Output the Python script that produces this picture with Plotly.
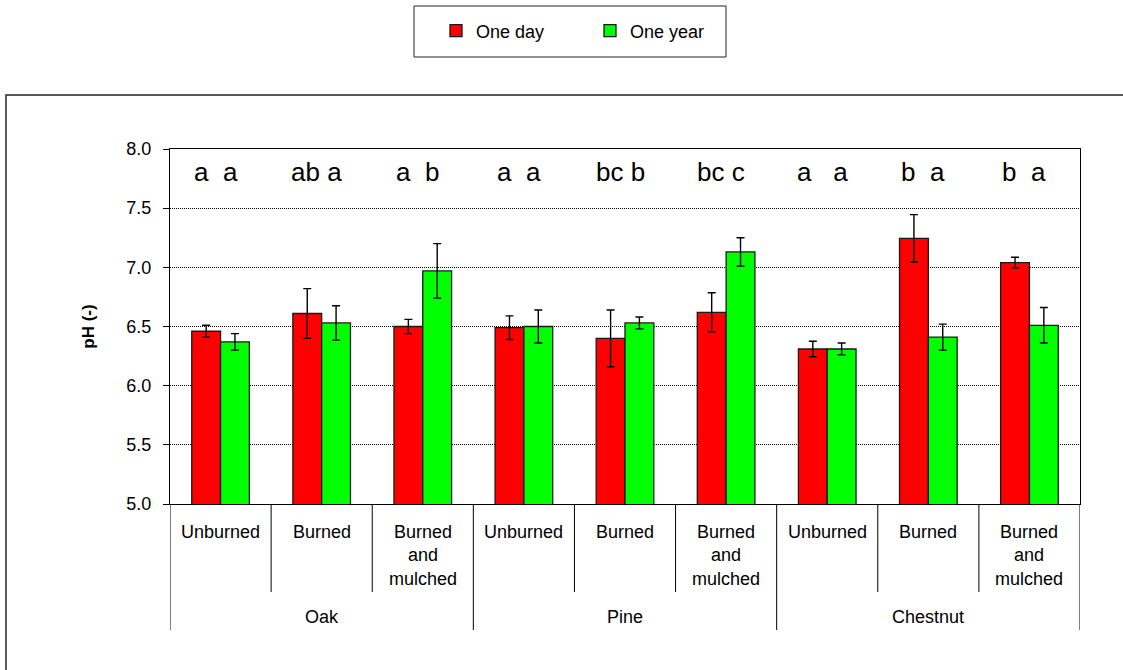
import plotly.graph_objects as go

# Treatments within each species, and the species groups
treatments = ["Unburned", "Burned", "Burned<br>and<br>mulched"]
species = ["Oak", "Pine", "Chestnut"]

# Mean pH and standard deviation per treatment (species-major order)
one_day = [6.46, 6.61, 6.50, 6.49, 6.40, 6.62, 6.31, 7.245, 7.04]
one_day_sd = [0.05, 0.21, 0.06, 0.10, 0.24, 0.165, 0.065, 0.20, 0.045]
one_year = [6.37, 6.53, 6.97, 6.50, 6.53, 7.13, 6.31, 6.41, 6.51]
one_year_sd = [0.07, 0.145, 0.23, 0.14, 0.05, 0.12, 0.05, 0.11, 0.15]

# Significance letters (one day / one year)
letters = ["a  a", "ab a", "a  b", "a  a", "bc b", "bc c", "a   a", "b  a", "b  a"]

y_ticks = [5.0, 5.5, 6.0, 6.5, 7.0, 7.5, 8.0]

FONT = "Liberation Sans, Arial, sans-serif"
n_cat = len(treatments) * len(species)
xpos = list(range(n_cat))

fig = go.Figure()
fig.add_trace(go.Bar(
    x=xpos, y=one_day, name="One day",
    marker=dict(color="#FF0000", line=dict(color="#1a1a1a", width=1.3)),
    error_y=dict(type="data", array=one_day_sd, color="black", thickness=1.4, width=4),
))
fig.add_trace(go.Bar(
    x=xpos, y=one_year, name="One year",
    marker=dict(color="#00FF00", line=dict(color="#1a1a1a", width=1.3)),
    error_y=dict(type="data", array=one_year_sd, color="black", thickness=1.4, width=4),
))

fig.update_layout(
    width=1123, height=670,
    margin=dict(l=170, r=43, t=149, b=166, autoexpand=False),
    paper_bgcolor="white", plot_bgcolor="white",
    font=dict(family=FONT, size=18, color="black"),
    barmode="group", bargap=0.43, bargroupgap=0,
    showlegend=True,
    legend=dict(
        orientation="h", x=0.2923, y=1.3324, xanchor="left", yanchor="middle",
        xref="paper", yref="paper",
        entrywidth=109, entrywidthmode="pixels",
        bgcolor="rgba(0,0,0,0)", borderwidth=0,
        font=dict(family=FONT, size=18),
    ),
)

fig.update_xaxes(
    range=[-0.5, n_cat - 0.5], showticklabels=False, ticks="",
    showline=True, linecolor="black", linewidth=1, mirror=True,
    showgrid=False, zeroline=False, fixedrange=True,
)
fig.update_yaxes(
    range=[5.0, 8.0], tickvals=y_ticks, ticktext=[f"{v:.1f}" for v in y_ticks],
    ticks="outside", ticklen=6, tickcolor="black", ticklabelstandoff=8,
    showline=True, linecolor="black", linewidth=1, mirror=True,
    showgrid=True, gridcolor="black", gridwidth=1, griddash="1px,1px",
    zeroline=False, automargin=False,
    tickfont=dict(family=FONT, size=18),
    title=dict(text="<b>pH (-)</b>", font=dict(family=FONT, size=17), standoff=27),
)

annotations = []
shapes = []

# Significance letters above each treatment
for i, txt in enumerate(letters):
    annotations.append(dict(
        x=i, y=7.8, xref="x", yref="y", text=txt.replace(" ", "\u00a0"),
        showarrow=False, xanchor="center", yanchor="middle", xshift=-5, yshift=1,
        font=dict(family=FONT, size=26),
    ))

# Treatment labels and short dividers
for g in range(len(species)):
    for t, name in enumerate(treatments):
        i = g * len(treatments) + t
        annotations.append(dict(
            x=i, y=0, xref="x", yref="paper", text=name, showarrow=False,
            xanchor="center", yanchor="top", yshift=-16, align="center",
            font=dict(family=FONT, size=18),
        ))
        if t > 0:
            shapes.append(dict(
                type="line", xref="x", yref="paper", x0=i - 0.5, x1=i - 0.5,
                y0=0, y1=-88 / 355, line=dict(color="black", width=1),
            ))

# Species labels and long dividers
for g, name in enumerate(species):
    centre = g * len(treatments) + (len(treatments) - 1) / 2
    annotations.append(dict(
        x=centre, y=0, xref="x", yref="paper", text=name, showarrow=False,
        xanchor="center", yanchor="middle", yshift=-113,
        font=dict(family=FONT, size=18),
    ))
for g in range(len(species) + 1):
    xb = g * len(treatments) - 0.5
    shapes.append(dict(
        type="line", xref="x", yref="paper", x0=xb, x1=xb,
        y0=0, y1=-126 / 355, line=dict(color="black", width=1),
    ))

# Legend frame
shapes.append(dict(
    type="rect", xref="paper", yref="paper",
    x0=(414 - 170) / 910, x1=(726 - 170) / 910,
    y0=(504 - 57) / 355, y1=(504 - 6) / 355,
    line=dict(color="#222222", width=1), fillcolor="rgba(0,0,0,0)",
))

# Outer chart-area frame
shapes.append(dict(
    type="rect", xref="paper", yref="paper",
    x0=(6 - 170) / 910, x1=(1130 - 170) / 910,
    y0=(504 - 680) / 355, y1=(504 - 95) / 355,
    line=dict(color="#222222", width=1.5), fillcolor="rgba(0,0,0,0)",
))

fig.update_layout(annotations=annotations, shapes=shapes)

fig.write_html("out.html")
